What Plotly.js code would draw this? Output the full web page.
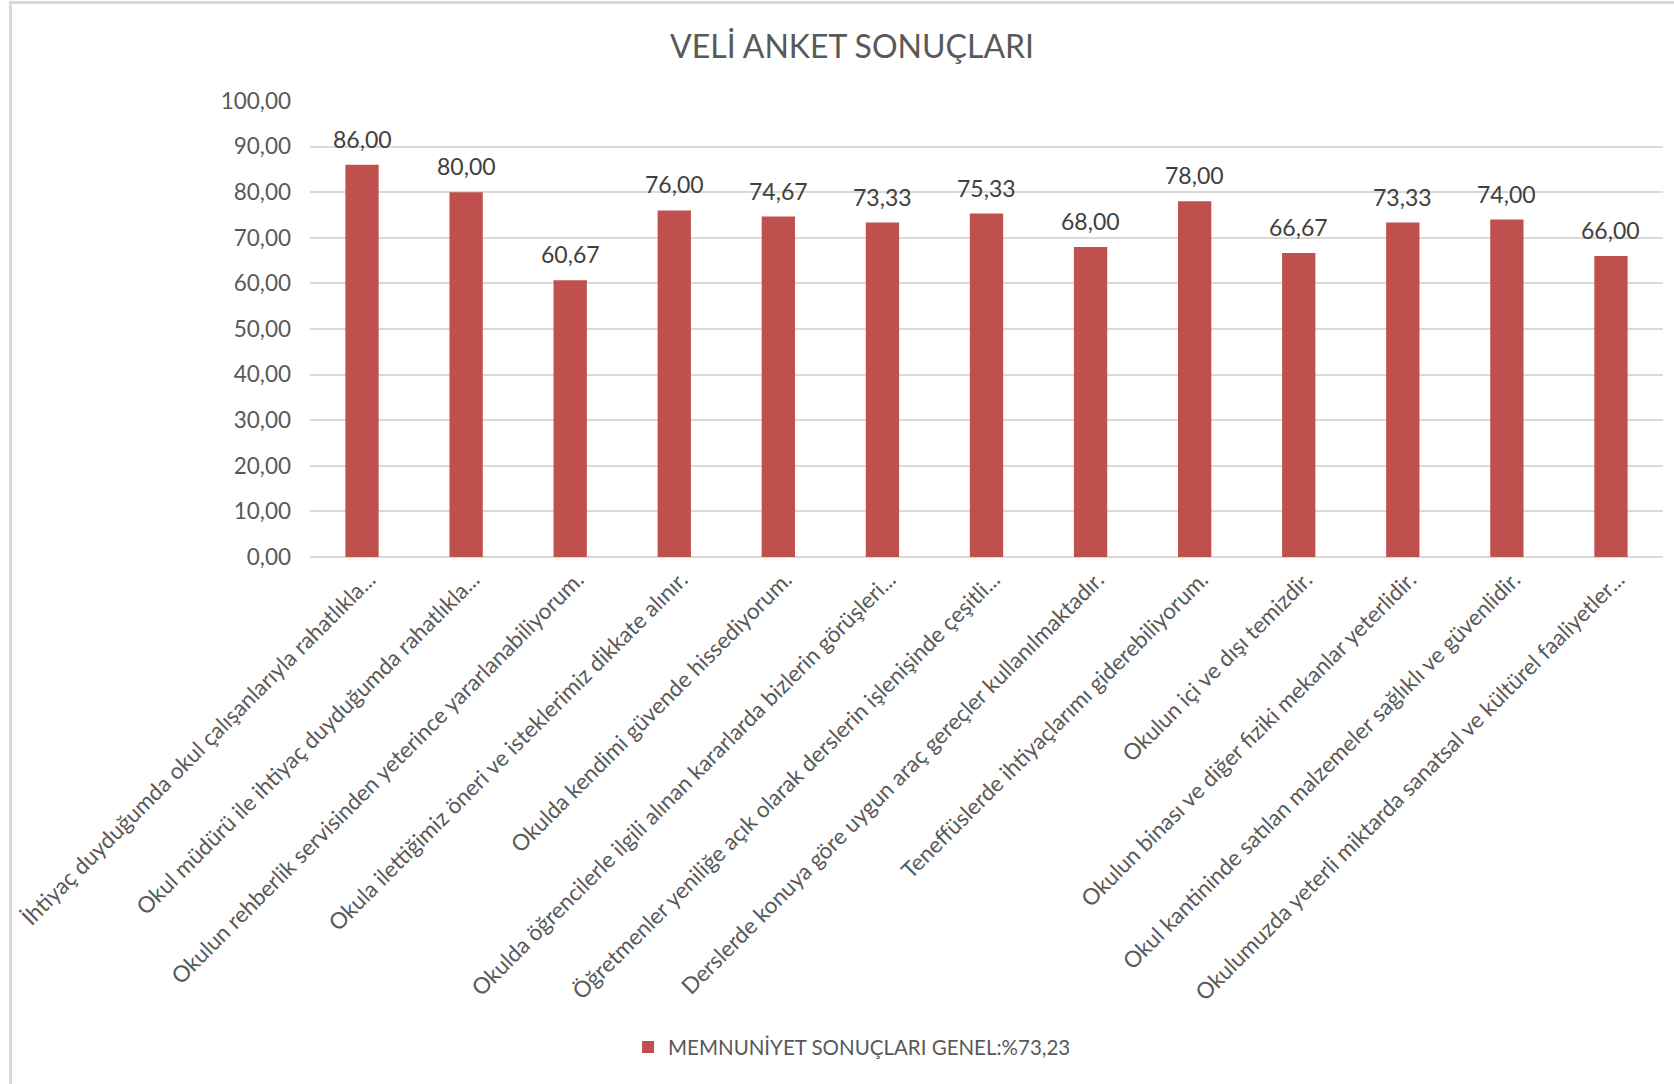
<!DOCTYPE html>
<html>
<head>
<meta charset="utf-8">
<script src="https://cdn.plot.ly/plotly-3.0.1.min.js"></script>
<style>
  html, body { margin: 0; padding: 0; background: #ffffff; }
  #chart { width: 1674px; height: 1084px; position: absolute; left: 0; top: 0; }
  #frame { position: absolute; left: 9px; top: 1px; width: 1665px; height: 1083px;
           border-top: 3px solid #d9d9d9; border-left: 3px solid #d9d9d9;
           box-sizing: border-box; pointer-events: none; }
</style>
</head>
<body>
<div id="chart"></div>
<div id="frame"></div>
<script>
const categories = [
  "İhtiyaç duyduğumda okul çalışanlarıyla rahatlıkla...",
  "Okul müdürü ile ihtiyaç duyduğumda rahatlıkla...",
  "Okulun rehberlik servisinden yeterince yararlanabiliyorum.",
  "Okula ilettiğimiz öneri ve isteklerimiz dikkate alınır.",
  "Okulda kendimi güvende hissediyorum.",
  "Okulda öğrencilerle ilgili alınan kararlarda bizlerin görüşleri...",
  "Öğretmenler yeniliğe açık olarak derslerin işlenişinde çeşitli...",
  "Derslerde konuya göre uygun araç gereçler kullanılmaktadır.",
  "Teneffüslerde ihtiyaçlarımı giderebiliyorum.",
  "Okulun içi ve dışı temizdir.",
  "Okulun binası ve diğer fiziki mekanlar yeterlidir.",
  "Okul kantininde satılan malzemeler sağlıklı ve güvenlidir.",
  "Okulumuzda yeterli miktarda sanatsal ve kültürel faaliyetler..."
];
const values = [86.00, 80.00, 60.67, 76.00, 74.67, 73.33, 75.33, 68.00, 78.00, 66.67, 73.33, 74.00, 66.00];
const seriesName = "MEMNUNİYET SONUÇLARI GENEL:%73,23";
const chartTitle = "VELİ ANKET SONUÇLARI";

const FONT = "Lato, 'Open Sans', sans-serif";
const fmt = v => v.toFixed(2).replace('.', ',');

const trace = {
  type: 'bar',
  x: categories,
  y: values,
  name: seriesName,
  marker: { color: '#c0504d', line: { width: 0 } },
  hoverinfo: 'none'
};

const annotations = categories.map((c, i) => ({
  x: c, y: values[i], xref: 'x', yref: 'y',
  text: fmt(values[i]), showarrow: false,
  yanchor: 'middle', yshift: 26,
  font: { family: FONT, size: 23, color: '#404040' }
}));

const layout = {
  width: 1674, height: 1084,
  paper_bgcolor: '#ffffff', plot_bgcolor: '#ffffff',
  separators: ',.',
  margin: { l: 310, r: 11, t: 101, b: 527, pad: 0 },
  title: {
    text: chartTitle,
    font: { family: FONT, size: 32, color: '#595959' },
    xref: 'container', x: 0.509, xanchor: 'center',
    yref: 'container', y: 0.9566, yanchor: 'middle'
  },
  bargap: 0.68,
  xaxis: {
    type: 'category',
    tickangle: -45,
    tickfont: { family: FONT, size: 22.5, color: '#595959' },
    showgrid: false, showline: false, zeroline: false, ticks: '',
    ticklabelshift: 7, ticklabelstandoff: 4,
    automargin: false
  },
  yaxis: {
    range: [0, 100], dtick: 10, tick0: 0,
    tickformat: '.2f',
    tickfont: { family: FONT, size: 22.5, color: '#595959' },
    showgrid: true, gridcolor: '#d9d9d9', gridwidth: 2,
    zeroline: true, zerolinecolor: '#d9d9d9', zerolinewidth: 2,
    showline: false, ticks: '', ticklabelstandoff: 18,
    automargin: false, fixedrange: true
  },
  showlegend: true,
  legend: {
    orientation: 'h',
    xref: 'container', x: 0.509, xanchor: 'center',
    yref: 'container', y: 0.034, yanchor: 'middle',
    font: { family: FONT, size: 20.5, color: '#595959' },
    itemwidth: 30,
    bgcolor: 'rgba(0,0,0,0)'
  },
  annotations: annotations
};

Plotly.newPlot('chart', [trace], layout, { displayModeBar: false, staticPlot: true });
</script>
</body>
</html>
